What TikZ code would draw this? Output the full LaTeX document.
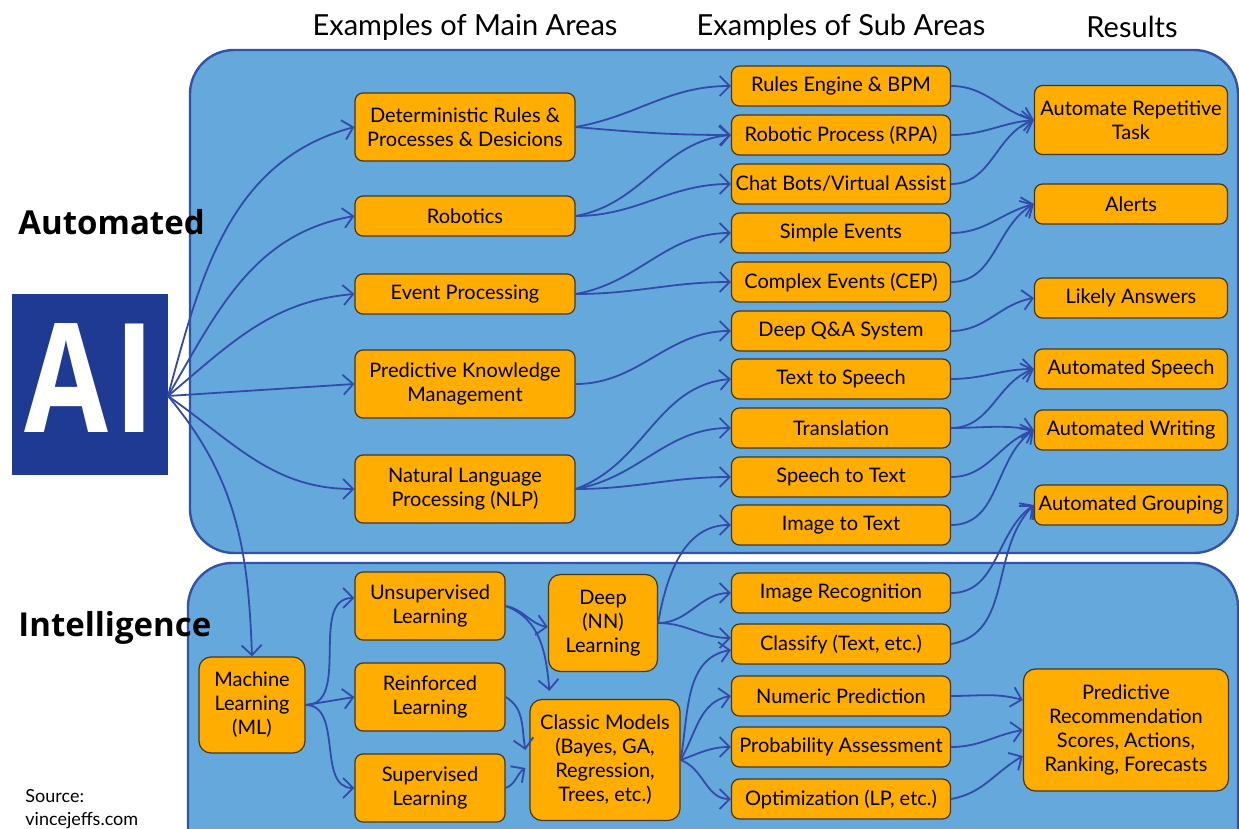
\documentclass[tikz,border=0pt]{standalone}
\usepackage{fontspec}
\setmainfont{Lato}
\newfontfamily\headfont{Open Sans}
\newfontfamily\logofont[FakeStretch=0.8]{Open Sans}
\usepackage{tikz}
\usetikzlibrary{arrows.meta}
\usetikzlibrary{positioning}
\definecolor{panelblue}{RGB}{100,168,220}
\definecolor{panelline}{RGB}{52,82,168}
\definecolor{aiblue}{RGB}{31,58,147}
\definecolor{areaorange}{RGB}{255,173,0}
\definecolor{arealine}{RGB}{70,55,25}
\definecolor{linkblue}{RGB}{50,75,170}
\tikzset{
    area/.style={
        draw=arealine,
        fill=areaorange,
        rounded corners=4pt,
        line width=0.6pt,
        minimum width=110pt,
        minimum height=20pt,
        inner sep=0pt,
        align=center,
        font=\fontsize{10}{12}\selectfont
    },
    subarea/.style={area, minimum width=109.5pt},
    result/.style={area, minimum width=96.5pt},
    bigarea/.style={area, rounded corners=6pt},
    link/.style={
        draw=linkblue,
        line width=0.9pt,
        -{Straight Barb[length=5pt, width=10pt]}
    },
    panel/.style={
        draw=panelline,
        fill=panelblue,
        line width=1.2pt,
        rounded corners=22pt
    },
    heading/.style={font=\fontsize{14.5}{17}\selectfont},
    sidelabel/.style={anchor=west, inner sep=0pt, font=\headfont\bfseries\fontsize{16.5}{20}\selectfont}
}

\begin{document}
\begin{tikzpicture}[x=0.5pt, y=-0.5pt]
  \clip (0,0) rectangle (1239,829);

  % Panels
  \draw[panel] (190,50) rectangle (1238,553);
  \draw[panel] (188,563) rectangle (1238,880);

  % Headings
  \node[heading] (hmain) at (465,27) {Examples of Main Areas};
  \node[heading] (hsub) at (841,27) {Examples of Sub Areas};
  \node[heading] (hres) at (1132,27) {Results};

  \node[sidelabel] (automated) at (18,222) {Automated};
  \node[sidelabel] (intelligence) at (18,628) {Intelligence};
  \node[anchor=north west, inner sep=0pt, align=left, font=\fontsize{9}{11.5}\selectfont] (source) at (25,789) {Source:\\vincejeffs.com};

  % AI block
  \node[fill=aiblue, minimum width=78pt, minimum height=90.5pt, inner sep=0pt, text depth=6pt,
        text=white, font=\logofont\bfseries\fontsize{76}{76}\selectfont] (ai) at (90,384.5) {A\kern3pt I};
  \coordinate (hub) at (168,396);

  % Main areas
  \node[area, minimum height=34pt] (det) at (465,127) {Deterministic Rules \&\\Processes \& Desicions};
  \node[area] (robo) at (465,216) {Robotics};
  \node[area] (event) at (465,294) {Event Processing};
  \node[area, minimum height=34pt] (pkm) at (465,384) {Predictive Knowledge\\Management};
  \node[area, minimum height=34pt] (nlp) at (465,489) {Natural Language\\Processing (NLP)};

  % Learning
  \node[bigarea, minimum width=53pt, minimum height=48pt] (ml) at (252,705) {Machine\\Learning\\(ML)};
  \node[area, minimum width=75pt, minimum height=34pt] (unsup) at (430,606) {Unsupervised\\Learning};
  \node[area, minimum width=75pt, minimum height=34pt] (reinf) at (430,697) {Reinforced\\Learning};
  \node[area, minimum width=75pt, minimum height=34pt] (sup) at (430,788) {Supervised\\Learning};
  \node[bigarea, minimum width=54.5pt, minimum height=48.5pt] (deep) at (603,623) {Deep\\(NN)\\Learning};
  \node[bigarea, minimum width=75pt, minimum height=60.5pt] (classic) at (605,760) {Classic Models\\(Bayes, GA,\\Regression,\\Trees, etc.)};

  % Sub areas
  \node[subarea] (rules) at (841,86) {Rules Engine \& BPM};
  \node[subarea] (rpa) at (841,135) {Robotic Process (RPA)};
  \node[subarea] (chat) at (841,184) {Chat Bots/Virtual Assist};
  \node[subarea] (simple) at (841,233) {Simple Events};
  \node[subarea] (complex) at (841,282) {Complex Events (CEP)};
  \node[subarea] (qa) at (841,331) {Deep Q\&A System};
  \node[subarea] (tts) at (841,379) {Text to Speech};
  \node[subarea] (transl) at (841,428) {Translation};
  \node[subarea] (stt) at (841,477) {Speech to Text};
  \node[subarea] (itt) at (841,525) {Image to Text};
  \node[subarea] (imgrec) at (841,593) {Image Recognition};
  \node[subarea] (classify) at (841,644) {Classify (Text, etc.)};
  \node[subarea] (numeric) at (841,696) {Numeric Prediction};
  \node[subarea] (prob) at (841,747) {Probability Assessment};
  \node[subarea] (optim) at (841,799) {Optimization (LP, etc.)};

  % Results
  \node[result, minimum height=34.5pt] (art) at (1131,120) {Automate Repetitive\\Task};
  \node[result] (alerts) at (1131,204) {Alerts};
  \node[result] (likely) at (1131,298) {Likely Answers};
  \node[result] (speech) at (1131,369) {Automated Speech};
  \node[result] (writing) at (1131,430) {Automated Writing};
  \node[result] (grouping) at (1131,505) {Automated Grouping};
  \node[bigarea, minimum width=102.5pt, minimum height=61pt] (pred) at (1126,730) {Predictive\\Recommendation\\Scores, Actions,\\Ranking, Forecasts};

  % AI to main areas
  \draw[link] (hub) to[out=75, in=195] (det.west);
  \draw[link] (hub) to[out=60, in=190] (robo.west);
  \draw[link] (hub) to[out=40, in=185] (event.west);
  \draw[link] (hub) -- (pkm.west);
  \draw[link] (hub) to[out=-35, in=180] (nlp.west);
  \draw[link] (hub) to[out=-50, in=92] (ml.north);

  % Main areas to sub areas
  \draw[link] (det.east) to[out=10, in=180] (rules.west);
  \draw[link] (det.east) to[out=-5, in=180] (rpa.west);
  \draw[link] (robo.east) to[out=10, in=185] (rpa.west);
  \draw[link] (robo.east) to[out=0, in=180] (chat.west);
  \draw[link] (event.east) to[out=10, in=180] (simple.west);
  \draw[link] (event.east) to[out=0, in=180] (complex.west);
  \draw[link] (pkm.east) to[out=0, in=180] (qa.west);
  \draw[link] (nlp.east) to[out=20, in=185] (tts.west);
  \draw[link] (nlp.east) to[out=10, in=180] (transl.west);
  \draw[link] (nlp.east) to[out=0, in=180] (stt.west);

  % Learning paths
  \draw[link] (ml.east) to[out=0, in=180] ([yshift=4pt]unsup.west);
  \draw[link] (ml.east) -- (reinf.west);
  \draw[link] (ml.east) to[out=0, in=180] (sup.west);
  \draw[link] (unsup.east) to[out=-10, in=170] ([yshift=-2pt]deep.west);
  \draw[link] (unsup.east) to[out=-20, in=95] ([xshift=10pt, yshift=4pt]classic.north west);
  \draw[link] (reinf.east) to[out=-30, in=100] ([xshift=-2pt, yshift=5pt]classic.west);
  \draw[link] (sup.east) to[out=20, in=215] ([xshift=-2pt, yshift=-4pt]classic.west);
  \draw[link] (deep.east) to[out=80, in=180] (itt.west);
  \draw[link] (deep.east) to[out=0, in=180] (imgrec.west);
  \draw[link] (deep.east) to[out=0, in=180] ([yshift=3pt]classify.west);
  \draw[link] (classic.east) to[out=80, in=190] ([yshift=-3pt]classify.west);
  \draw[link] (classic.east) to[out=60, in=190] (numeric.west);
  \draw[link] (classic.east) to[out=20, in=180] (prob.west);
  \draw[link] (classic.east) to[out=-20, in=180] (optim.west);

  % Sub areas to results
  \draw[link] (rules.east) to[out=0, in=165] (art.west);
  \draw[link] (rpa.east) to[out=0, in=185] (art.west);
  \draw[link] (chat.east) to[out=0, in=200] (art.west);
  \draw[link] (simple.east) to[out=0, in=195] (alerts.west);
  \draw[link] (complex.east) to[out=0, in=210] (alerts.west);
  \draw[link] (qa.east) to[out=0, in=190] (likely.west);
  \draw[link] (tts.east) to[out=0, in=180] (speech.west);
  \draw[link] (transl.east) to[out=0, in=200] (speech.west);
  \draw[link] (transl.east) to[out=0, in=170] (writing.west);
  \draw[link] (stt.east) to[out=0, in=200] (writing.west);
  \draw[link] (itt.east) to[out=0, in=215] (writing.west);
  \draw[link] (imgrec.east) to[out=0, in=215] (grouping.west);
  \draw[link] (classify.east) to[out=10, in=225] (grouping.west);
  \draw[link] (numeric.east) to[out=0, in=165] ([yshift=15pt]pred.west);
  \draw[link] (prob.east) to[out=0, in=190] (pred.west);
  \draw[link] (optim.east) to[out=10, in=210] ([yshift=-13pt]pred.west);
\end{tikzpicture}
\end{document}
